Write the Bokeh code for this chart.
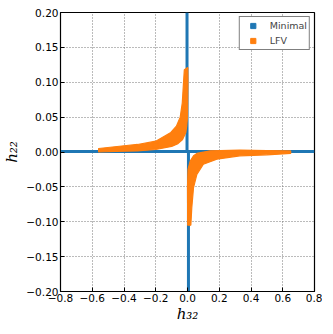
from bokeh.plotting import figure
from bokeh.models import FixedTicker, Legend, LegendItem, Range1d
from bokeh.embed import file_html
from bokeh.resources import INLINE

# ---- data ----
x_ticks = [-0.8, -0.6, -0.4, -0.2, 0.0, 0.2, 0.4, 0.6, 0.8]
x_tick_labels = ["\u22120.8", "\u22120.6", "\u22120.4", "\u22120.2", "0.0", "0.2", "0.4", "0.6", "0.8"]
y_ticks = [-0.2, -0.15, -0.1, -0.05, 0.0, 0.05, 0.1, 0.15, 0.2]
y_tick_labels = ["\u22120.20", "\u22120.15", "\u22120.10", "\u22120.05", "0.00", "0.05", "0.10", "0.15", "0.20"]

# Minimal: thin strips along the axes
minimal_h32 = [[-0.8, 0.8], [-0.003, -0.003], [0.006, 0.006]]
minimal_h22 = [[0.0007, 0.0007], [0.0, 0.2], [0.0, -0.2]]

# LFV: outlines of the two hyperbola-shaped bands (outer edge, then inner edge)
lfv_ul_h32 = [-0.56, -0.4, -0.315, -0.2, -0.105, -0.07, -0.046, -0.033, -0.025, -0.02, 0.002,
              0.003, 0.0, -0.005, -0.011, -0.031, -0.06, -0.1, -0.2, -0.315, -0.45, -0.56]
lfv_ul_h22 = [0.005, 0.009, 0.0108, 0.0155, 0.028, 0.037, 0.05, 0.07, 0.1, 0.118, 0.121,
              0.1, 0.05, 0.037, 0.0275, 0.018, 0.012, 0.008, 0.0036, 0.0015, 0.001, 0.0]
lfv_lr_h32 = [0.001, 0.0, 0.003, 0.017, 0.038, 0.059, 0.143, 0.33, 0.5, 0.65,
              0.65, 0.5, 0.33, 0.185, 0.1, 0.059, 0.038, 0.027, 0.021]
lfv_lr_h22 = [-0.105, -0.05, -0.025, -0.013, -0.0055, -0.002, 0.0017, 0.0026, 0.002, 0.0015,
              -0.002, -0.004, -0.0055, -0.0103, -0.0175, -0.032, -0.051, -0.08, -0.105]

# single sample points used for the legend's square markers
minimal_pt_h32 = [-0.3]
minimal_pt_h22 = [0.005]
lfv_pt_h32 = [-0.2]
lfv_pt_h22 = [0.009]

BLUE = "#1f77b4"
ORANGE = "#ff7f0e"

p = figure(frame_width=254, frame_height=279, output_backend="svg", toolbar_location=None,
           x_range=Range1d(-0.8, 0.8), y_range=Range1d(-0.2, 0.2),
           min_border_left=55, min_border_right=8, min_border_top=12, min_border_bottom=30)
p.background_fill_color = "white"
p.border_fill_color = "white"
p.outline_line_color = "black"
p.outline_line_width = 1.2

r_min = p.multi_line(xs=minimal_h32, ys=minimal_h22, line_color=BLUE, line_width=3)
leg_min = p.scatter(x=minimal_pt_h32, y=minimal_pt_h22, marker="square", size=5,
                    fill_color=BLUE, line_color=BLUE)
r_lfv = p.patches(xs=[lfv_ul_h32, lfv_lr_h32], ys=[lfv_ul_h22, lfv_lr_h22],
                  fill_color=ORANGE, line_color=ORANGE, line_width=1.2)
leg_lfv = p.scatter(x=lfv_pt_h32, y=lfv_pt_h22, marker="square", size=5,
                    fill_color=ORANGE, line_color=ORANGE)

legend = Legend(items=[LegendItem(label="Minimal", renderers=[leg_min]),
                       LegendItem(label="LFV", renderers=[leg_lfv])],
                location="top_right")
legend.label_text_font = "DejaVu Sans"
legend.label_text_font_size = "9.5px"
legend.label_height = 13
legend.glyph_height = 13
legend.glyph_width = 22
legend.label_standoff = 6
legend.spacing = 2
legend.padding = 2
legend.margin = 4
legend.border_line_color = "black"
legend.border_line_width = 1
legend.background_fill_alpha = 1
p.add_layout(legend)

xax = p.below[0]
yax = p.left[0]
for ax, ticks, labels in ((xax, x_ticks, x_tick_labels), (yax, y_ticks, y_tick_labels)):
    ax.ticker = FixedTicker(ticks=ticks)
    ax.major_label_overrides = {t: l for t, l in zip(ticks, labels)}
    ax.major_label_text_font = "DejaVu Sans"
    ax.major_label_text_font_size = "10.5px"
    ax.major_label_text_color = "black"
    ax.major_tick_in = 4
    ax.major_tick_out = 0
    ax.minor_tick_line_color = None
    ax.axis_line_color = "black"
    ax.major_tick_line_color = "black"
    ax.axis_label_text_font = "DejaVu Serif"
    ax.axis_label_text_font_style = "italic"
    ax.axis_label_text_font_size = "15px"
    ax.axis_label_text_color = "black"
    ax.major_label_standoff = 2

xax.axis_label = "h\u2083\u2082"
yax.axis_label = "h\u2082\u2082"
xax.axis_label_standoff = 0
yax.axis_label_standoff = 2

for g in (p.xgrid, p.ygrid):
    g.grid_line_color = "#777777"
    g.grid_line_dash = "1 2"
    g.grid_line_width = 1

open("out.html", "w").write(file_html(p, INLINE))
